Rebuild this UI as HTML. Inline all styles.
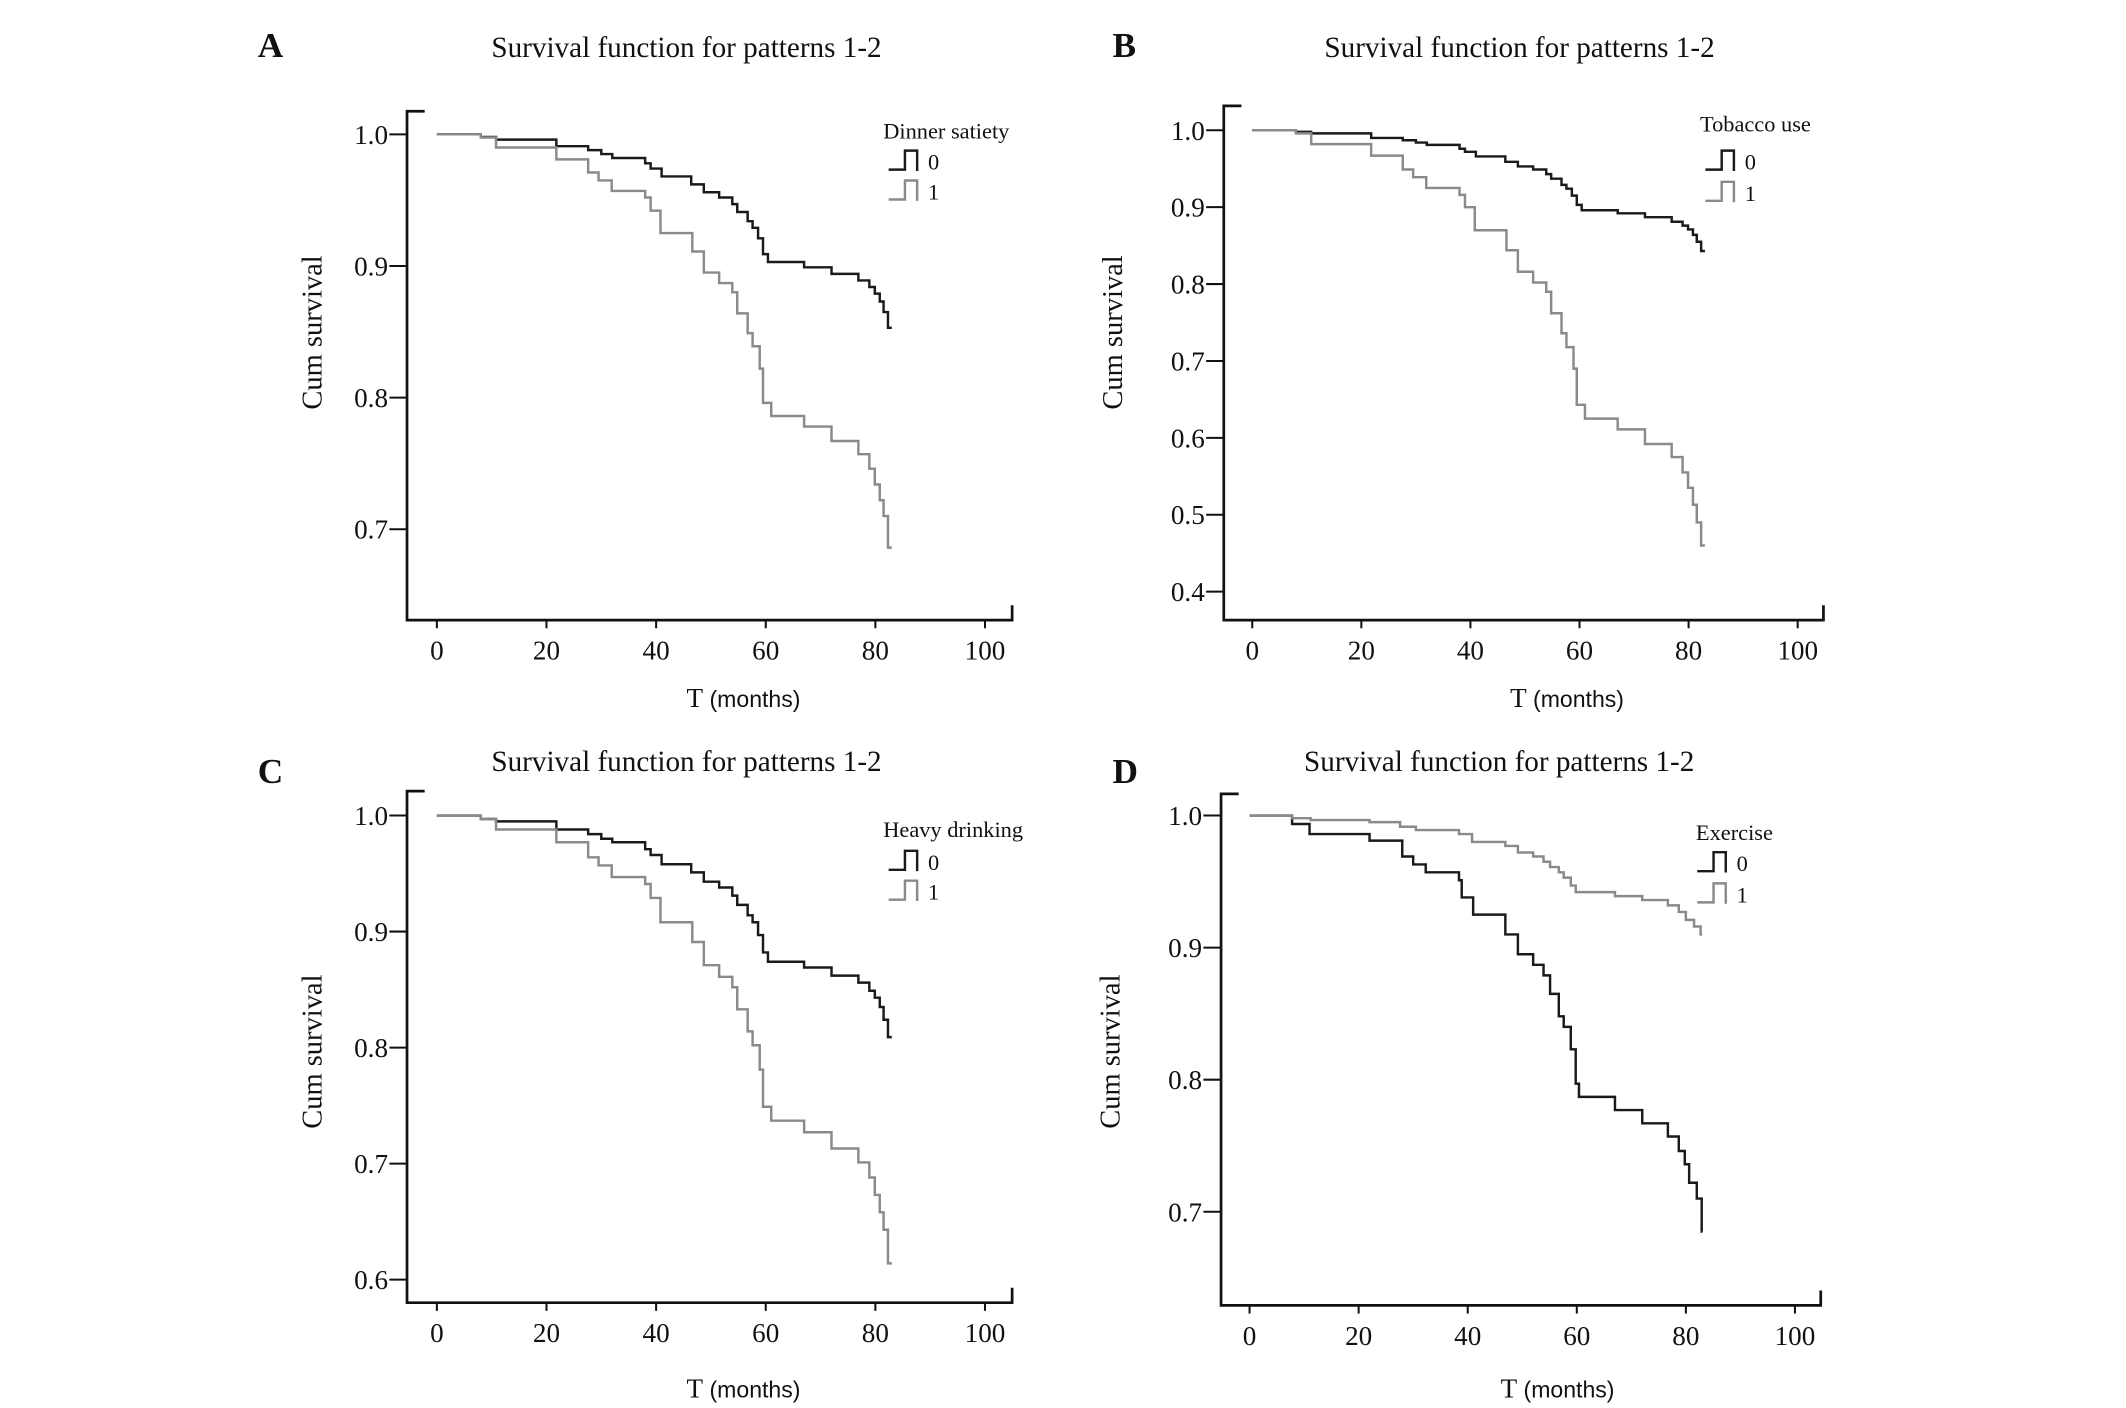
<!DOCTYPE html>
<html><head><meta charset="utf-8"><style>
html,body{margin:0;padding:0;background:#fff;}
svg{display:block;}
text{font-family:"Liberation Serif",serif;fill:#111;}
</style></head><body>
<svg id="fig" width="2126" height="1408" viewBox="0 0 1567 1037.6" preserveAspectRatio="none" xmlns="http://www.w3.org/2000/svg"></svg>
<script>
// Panel A: Dinner satiety
const timesA0=[0,8,10.8,21.8,27.6,30,32,38,39,41,46.4,48.7,51.5,53.9,54.8,56.7,57.6,58.6,59.5,60.4,67,72,76.9,78.9,79.9,80.8,81.5,82.3];
const survA0=[1,.998,.996,.991,.988,.985,.982,.978,.974,.968,.962,.956,.952,.947,.941,.934,.929,.921,.909,.903,.899,.894,.889,.884,.879,.873,.865,.853];
const timesA1=[0,8,10.8,21.8,27.6,29.5,31.9,38,39,40.8,46.6,48.7,51.5,53.9,54.8,56.7,57.6,58.9,59.5,61,67,72,76.9,78.9,79.9,80.8,81.5,82.3];
const survA1=[1,.9976,.99,.981,.971,.965,.957,.952,.942,.925,.911,.895,.887,.880,.864,.849,.839,.822,.796,.786,.778,.767,.757,.746,.734,.722,.710,.686];
// Panel B: Tobacco use
const survB0=[1,.998,.996,.99,.987,.984,.981,.976,.972,.966,.959,.953,.949,.943,.937,.929,.924,.915,.903,.896,.892,.887,.881,.876,.871,.864,.855,.843];
const survB1=[1,.996,.982,.967,.949,.939,.925,.916,.9,.87,.844,.816,.802,.79,.762,.736,.718,.69,.643,.625,.611,.592,.575,.555,.535,.513,.49,.46];
// Panel C: Heavy drinking
const survC0=[1,.997,.995,.988,.984,.98,.977,.971,.966,.958,.951,.943,.938,.931,.923,.914,.908,.897,.882,.874,.869,.862,.856,.849,.843,.835,.824,.809];
const survC1=[1,.997,.988,.977,.964,.957,.947,.941,.929,.908,.891,.871,.861,.852,.833,.814,.802,.781,.749,.737,.727,.713,.701,.688,.673,.658,.643,.614];
// Panel D: Exercise
const timesD0=[0,7.8,11,22,28,30,32.3,38.4,38.9,41,46.9,49.2,52,53.9,55.1,56.7,57.6,58.9,59.8,60.4,67,72,76.7,78.7,79.8,80.6,82,82.9];
const survD0=[1,.9936,.986,.981,.969,.963,.957,.951,.938,.925,.910,.895,.887,.879,.865,.848,.84,.823,.797,.787,.777,.767,.757,.746,.736,.722,.710,.685];
const timesD1=[0,7.8,11.2,22,27.6,30.5,38.4,40.8,46.9,49.2,52,53.9,55.1,56.7,57.6,58.9,59.8,67,72,76.7,78.7,80,81.5,82.7];
const survD1=[1,.998,.9966,.995,.9915,.989,.986,.980,.977,.972,.969,.965,.961,.957,.953,.947,.942,.939,.936,.932,.927,.921,.916,.910];
const xTicks=[0,20,40,60,80,100];
const yTicksA=[1.0,0.9,0.8,0.7];
const yTicksB=[1.0,0.9,0.8,0.7,0.6,0.5,0.4];
const yTicksC=[1.0,0.9,0.8,0.7,0.6];
const yTicksD=[1.0,0.9,0.8,0.7];
const END_T=83;

const NS="http://www.w3.org/2000/svg";
const svg=document.getElementById('fig');
function mk(tag,attrs,parent){const e=document.createElementNS(NS,tag);for(const k in attrs)e.setAttribute(k,attrs[k]);(parent||svg).appendChild(e);return e;}

const panels=[
 {id:'a',letter:'A',lx:190,ly:42,title:[506,42],L:300,T:82,B:457,R:746,x0:322,x1:726,yv0:1.0,yp0:99,yv1:0.7,yp1:390,ticks:yTicksA,ytx:230,yty:245,xtx:548,xty:521,
  leg:'Dinner satiety',legx:651,legy:102,symx:655,sy0:119,sy1:141,
  series:[[timesA0,survA0,'#1a1a1a'],[timesA1,survA1,'#8a8a8a']],legColors:['#1a1a1a','#8a8a8a']},
 {id:'b',letter:'B',lx:820,ly:42,title:[1120,42],L:902,T:78,B:457,R:1344,x0:923,x1:1325,yv0:1.0,yp0:96,yv1:0.4,yp1:436,ticks:yTicksB,ytx:820,yty:245,xtx:1155,xty:521,
  leg:'Tobacco use',legx:1253,legy:97,symx:1257,sy0:119,sy1:142,
  series:[[timesA0,survB0,'#1a1a1a'],[timesA1,survB1,'#8a8a8a']],legColors:['#1a1a1a','#8a8a8a']},
 {id:'c',letter:'C',lx:190,ly:577,title:[506,568],L:300,T:583,B:960,R:746,x0:322,x1:726,yv0:1.0,yp0:601,yv1:0.6,yp1:943,ticks:yTicksC,ytx:230,yty:775,xtx:548,xty:1030,
  leg:'Heavy drinking',legx:651,legy:617,symx:655,sy0:635,sy1:657,
  series:[[timesA0,survC0,'#1a1a1a'],[timesA1,survC1,'#8a8a8a']],legColors:['#1a1a1a','#8a8a8a']},
 {id:'d',letter:'D',lx:820,ly:577,title:[1105,568],L:900,T:585,B:962,R:1342,x0:921,x1:1323,yv0:1.0,yp0:601,yv1:0.7,yp1:893,ticks:yTicksD,ytx:818,yty:775,xtx:1148,xty:1030,
  leg:'Exercise',legx:1250,legy:619,symx:1251,sy0:636,sy1:659,
  series:[[timesD0,survD0,'#1a1a1a'],[timesD1,survD1,'#8a8a8a']],legColors:['#1a1a1a','#8a8a8a']}
];

panels.forEach(p=>{
 const g=mk('g',{});
 
 
 const X=t=>p.x0+(p.x1-p.x0)*t/100;
 const Y=v=>p.yp0+(p.yp1-p.yp0)*(p.yv0-v)/(p.yv0-p.yv1);
 const lt=mk('text',{x:p.lx,y:p.ly,'font-size':26,'font-weight':'bold'},g);lt.textContent=p.letter;
 
 
 const tt=mk('text',{x:p.title[0],y:p.title[1],'font-size':21.5,'text-anchor':'middle'},g);tt.textContent='Survival function for patterns 1-2';
 
 
 const ax=mk('path',{d:`M${p.L+13},${p.T}H${p.L}V${p.B}H${p.R}V${p.B-11}`,fill:'none',stroke:'#111','stroke-width':2},g);
 
 
 xTicks.forEach(t=>{
  const tk=mk('line',{x1:X(t),x2:X(t),y1:p.B,y2:p.B+6,stroke:'#111','stroke-width':1.5},g);
  
  
  const tl=mk('text',{x:X(t),y:p.B+29,'font-size':20,'text-anchor':'middle'},g);tl.textContent=t;
  
  
 });
 p.ticks.forEach(v=>{
  const tk=mk('line',{x1:p.L-13,x2:p.L,y1:Y(v),y2:Y(v),stroke:'#111','stroke-width':1.5},g);
  
  
  const tl=mk('text',{x:p.L-14,y:Y(v)+7,'font-size':20,'text-anchor':'end'},g);tl.textContent=v.toFixed(1);
  
  
 });
 const yt=mk('text',{x:0,y:0,'font-size':21,'text-anchor':'middle',transform:`translate(${p.ytx+7},${p.yty}) rotate(-90)`},g);yt.textContent='Cum survival';
 
 
 const xt=mk('text',{x:p.xtx,y:p.xty,'font-size':20,'text-anchor':'middle'},g);
 
 
 const t1=mk('tspan',{},xt);t1.textContent='T';
 const t2=mk('tspan',{'font-family':'Liberation Sans, sans-serif','font-size':17},xt);t2.textContent=' (months)';
 p.series.forEach((s,i)=>{
  const [ts,vs,col]=s;
  let d=`M${X(ts[0])},${Y(vs[0])}`;
  for(let k=1;k<ts.length;k++){d+=`H${X(ts[k])}V${Y(vs[k])}`;}
  d+=`H${X(END_T)}`;
  const pa=mk('path',{d,fill:'none',stroke:col,'stroke-width':1.8},g);
  
  
 });
 const lg=mk('g',{},g);
 
 
 const lh=mk('text',{x:p.legx,y:p.legy,'font-size':16.5},lg);lh.textContent=p.leg;
 
 
 [p.sy0,p.sy1].forEach((y,i)=>{
  const sx=p.symx;
  const sym=mk('path',{d:`M${sx},${y+6}H${sx+12}V${y-8}H${sx+21}V${y+7}`,fill:'none',stroke:p.legColors[i],'stroke-width':1.8},lg);
  
  
  const lb=mk('text',{x:sx+29,y:y+6,'font-size':16.5},lg);lb.textContent=String(i);
  
  
 });
});
</script>
</body></html>
